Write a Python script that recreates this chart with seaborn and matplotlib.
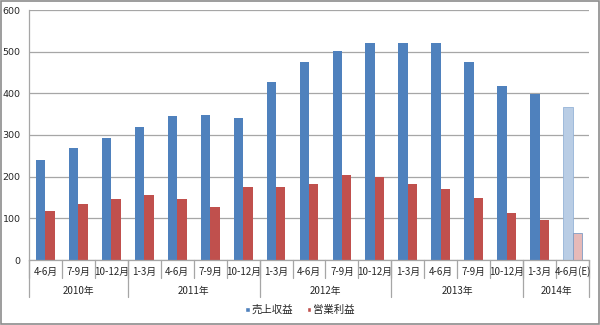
import matplotlib
matplotlib.use("Agg")
import matplotlib.pyplot as plt
import seaborn as sns
import pandas as pd
from matplotlib.patches import Rectangle
from matplotlib.lines import Line2D
from matplotlib.transforms import blended_transform_factory

# Quarterly results (億円)
quarters = ["4-6月", "7-9月", "10-12月",
            "1-3月", "4-6月", "7-9月", "10-12月",
            "1-3月", "4-6月", "7-9月", "10-12月",
            "1-3月", "4-6月", "7-9月", "10-12月",
            "1-3月", "4-6月(E)"]
years = ["2010年", "2011年", "2012年", "2013年", "2014年"]
quarters_per_year = [3, 4, 4, 4, 2]
revenue = [240, 270, 293, 319, 346, 347, 342, 427, 475, 501, 522, 522, 521, 475, 417, 399, 367]
profit = [118, 135, 146, 156, 146, 128, 175, 175, 183, 204, 199, 182, 170, 150, 113, 97, 64]
series_names = ["売上収益", "営業利益"]
yticks = [0, 100, 200, 300, 400, 500, 600]

BLUE = "#4F81BD"
RED = "#C0504D"
LIGHT_BLUE = "#B9CDE5"
LIGHT_RED = "#E6B9B8"
GRID = "#A6A6A6"

sns.set_style("white")
plt.rcParams["font.family"] = ["Noto Sans CJK JP", "DejaVu Sans"]

slots = list(range(len(quarters)))
df = pd.DataFrame({
    "slot": slots * 2,
    "series": [series_names[0]] * len(slots) + [series_names[1]] * len(slots),
    "value": revenue + profit,
})

fig = plt.figure(figsize=(6, 3.25), dpi=100)
ax = fig.add_axes([29 / 600, 1 - 260 / 325, 560 / 600, 250 / 325])

sns.barplot(data=df, x="slot", y="value", hue="series", hue_order=series_names,
            palette=[BLUE, RED], width=0.57, saturation=1, legend=False, ax=ax,
            edgecolor="none", linewidth=0)

# Forecast quarter drawn in lighter tints
est = ax.containers[0][-1]
est.set_facecolor(LIGHT_BLUE)
est.set_edgecolor("#95B3D7")
est.set_linewidth(0.6)
est2 = ax.containers[1][-1]
est2.set_facecolor(LIGHT_RED)
est2.set_edgecolor("#7F9CC4")
est2.set_linewidth(0.6)

ax.set_xlim(-0.5, len(quarters) - 0.5)
ax.set_ylim(0, 600)
ax.set_yticks(yticks)
ax.set_yticklabels([str(v) for v in yticks], fontsize=6.8, family="DejaVu Sans")
ax.yaxis.grid(True, color=GRID, linewidth=0.9)
ax.set_axisbelow(True)
ax.tick_params(axis="y", length=0, pad=6)
ax.set_xticks(slots)
ax.set_xticklabels([])
ax.tick_params(axis="x", length=0)
ax.set_xlabel("")
ax.set_ylabel("")
for side in ["top", "right"]:
    ax.spines[side].set_visible(False)
ax.spines["left"].set_color(GRID)
ax.spines["bottom"].set_color(GRID)
ax.spines["left"].set_linewidth(0.9)
ax.spines["bottom"].set_linewidth(0.9)

# Two-level category axis: quarters, then years
tr = blended_transform_factory(ax.transData, ax.transAxes)
for i, q in enumerate(quarters):
    ax.text(i, -0.047, q, transform=tr, ha="center", va="center", fontsize=7)
for i in range(len(quarters) + 1):
    ax.add_line(Line2D([i - 0.5, i - 0.5], [0, -0.072], transform=tr,
                       color=GRID, linewidth=0.9, clip_on=False))
start = 0
bounds = [-0.5]
for y, n in zip(years, quarters_per_year):
    ax.text(start + (n - 1) / 2, -0.123, y, transform=tr, ha="center", va="center",
            fontsize=7)
    start += n
    bounds.append(start - 0.5)
for b in bounds:
    ax.add_line(Line2D([b, b], [0, -0.148], transform=tr,
                       color=GRID, linewidth=0.9, clip_on=False))

handles = [Rectangle((0, 0), 1, 1, facecolor=BLUE),
           Rectangle((0, 0), 1, 1, facecolor=RED)]
fig.legend(handles, series_names, loc="center", bbox_to_anchor=(0.5, 1 - 310 / 325),
           ncol=2, frameon=False, fontsize=7.5, handlelength=0.45, handleheight=0.45,
           handletextpad=0.15, columnspacing=1.3)

fig.patches.append(Rectangle((0.001, 0.002), 0.997, 0.995, transform=fig.transFigure,
                             fill=False, edgecolor="#8C8C8C", linewidth=1.2))

fig.savefig("out.png", dpi=100)
